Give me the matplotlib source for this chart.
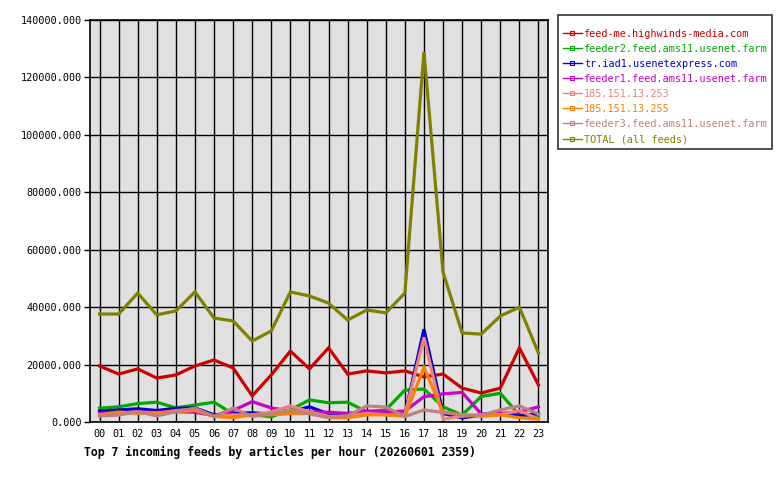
import matplotlib
matplotlib.use('Agg')
import matplotlib.pyplot as plt
from matplotlib.lines import Line2D
from matplotlib.ticker import FormatStrFormatter

# hours of the day
hours = [f'{h:02d}' for h in range(24)]

# articles per hour for each feed
feed_me = [19500, 16700, 18500, 15300, 16400, 19500, 21600, 18800, 9100, 16400, 24700, 18500,
           25800, 16700, 17800, 17100, 17800, 15700, 16700, 11800, 10100, 11800, 25800, 12900]
feeder2 = [4800, 5300, 6400, 6900, 4900, 5900, 6900, 2800, 2600, 1800, 4200, 7700,
           6700, 6900, 3600, 4200, 11100, 11500, 5300, 2400, 8900, 10000, 2400, 2000]
tr_iad1 = [3800, 4200, 4600, 4000, 4800, 4900, 2500, 3000, 3200, 2800, 3500, 5300,
           2800, 2800, 3200, 3000, 2500, 32300, 3000, 1400, 2500, 2800, 2100, 3000]
feeder1 = [3000, 3200, 3500, 3300, 3600, 3400, 2200, 4000, 7100, 4900, 3800, 3500,
           3400, 3000, 3800, 3500, 3800, 8800, 9800, 10300, 2800, 3000, 3500, 5300]
ip_253 = [2500, 3000, 3500, 3000, 4000, 4500, 2000, 2500, 2500, 3500, 5600, 3500,
          2000, 2000, 3000, 2500, 2500, 29500, 1000, 2000, 2500, 2500, 4000, 1000]
ip_255 = [2500, 3500, 3000, 3200, 3500, 4000, 2000, 1500, 2500, 2500, 3000, 3000,
          1500, 1500, 2500, 2500, 2000, 19000, 3500, 2500, 2000, 2500, 1500, 1000]
feeder3 = [2100, 2400, 3600, 2100, 3600, 4800, 1900, 4800, 1900, 3000, 4200, 2800,
           1700, 2100, 5600, 5200, 1900, 4200, 3300, 2400, 2400, 4200, 5600, 2800]
total = [37600, 37600, 44900, 37300, 38700, 45300, 36200, 35200, 28200, 31700, 45300, 43900,
         41400, 35500, 39000, 38000, 44900, 128900, 52200, 31000, 30600, 36900, 40000, 24000]

names = ['feed-me.highwinds-media.com', 'feeder2.feed.ams11.usenet.farm', 'tr.iad1.usenetexpress.com',
         'feeder1.feed.ams11.usenet.farm', '185.151.13.253', '185.151.13.255',
         'feeder3.feed.ams11.usenet.farm', 'TOTAL (all feeds)']
series = [feed_me, feeder2, tr_iad1, feeder1, ip_253, ip_255, feeder3, total]
colors = ['#cc0000', '#00aa00', '#0000cc', '#cc00cc', '#f08080', '#ff8000', '#c08080', '#808000']

mono = 'DejaVu Sans Mono'

fig = plt.figure(figsize=(7.8, 4.8), dpi=100)
ax = fig.add_axes([90 / 780, 1 - 422 / 480, 458 / 780, 402 / 480])
ax.set_facecolor('#e0e0e0')

x = list(range(len(hours)))
for vals, col in zip(series, colors):
    ax.plot(x, vals, color=col, lw=2.3, solid_joinstyle='miter', zorder=3)

# axes and grid
ax.set_xlim(-0.5, 23.5)
ax.set_ylim(0, 140000)
ax.set_xticks(x)
ax.set_xticklabels(hours, family=mono, fontsize=7.3)
ax.set_yticks(range(0, 140001, 20000))
ax.yaxis.set_major_formatter(FormatStrFormatter('%.3f'))
for lab in ax.get_yticklabels():
    lab.set_family(mono)
    lab.set_fontsize(7.3)
ax.tick_params(axis='x', length=0, pad=5)
ax.tick_params(axis='y', length=4, width=1, pad=2)
ax.grid(True, color='black', lw=1, zorder=1)
for sp in ax.spines.values():
    sp.set_linewidth(1.2)

# legend (blank tiny title adds the extra top gap of the original)
handles = [Line2D([], [], color=c, lw=1, marker='s', markersize=2.5,
                  markerfacecolor='none', markeredgewidth=0.8) for c in colors]
leg = fig.legend(handles, names, loc='upper left', bbox_to_anchor=(558 / 780, 1 - 15 / 480),
                 prop={'family': mono, 'size': 7.3}, handlelength=1.9, handletextpad=0.2,
                 labelspacing=0.5, borderpad=0.45, borderaxespad=0, frameon=True, fancybox=False,
                 title=' ', title_fontsize=3)
leg.get_frame().set_edgecolor('black')
leg.get_frame().set_linewidth(1.2)
for txt, c in zip(leg.get_texts(), colors):
    txt.set_color(c)

fig.text(84 / 780, 1 - 452 / 480, 'Top 7 incoming feeds by articles per hour (20260601 2359)',
         family=mono, fontweight='bold', fontsize=8.3, va='center', ha='left')

fig.savefig('out.png', dpi=100, facecolor='white')
